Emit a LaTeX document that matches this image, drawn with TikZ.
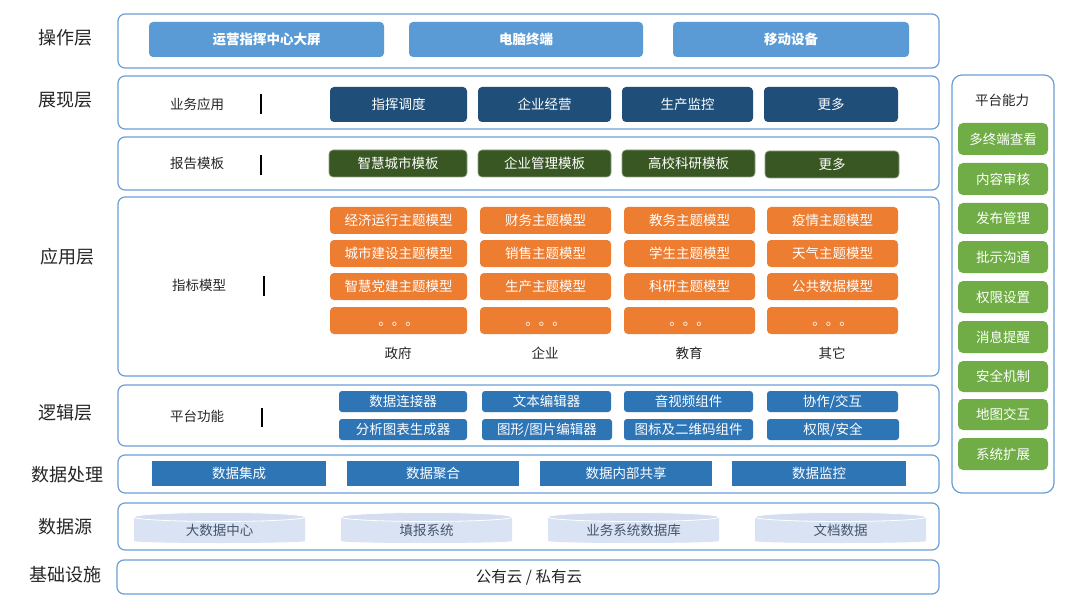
\documentclass[tikz,border=0pt]{standalone}
\usepackage{fontspec}
\setmainfont{Noto Sans CJK SC}
\definecolor{frame}{HTML}{6A9FD8}
\definecolor{lblue}{HTML}{5B9BD5}
\definecolor{navy}{HTML}{1F4E79}
\definecolor{dgreen}{HTML}{385723}
\definecolor{orng}{HTML}{ED7D31}
\definecolor{mblue}{HTML}{2E75B6}
\definecolor{lgreen}{HTML}{70AD47}
\definecolor{cylfill}{HTML}{DAE3F3}
\definecolor{cyltop}{HTML}{D5DEF0}
\definecolor{cyltxt}{HTML}{44546A}
\definecolor{txt}{HTML}{262626}
\newcommand\place[7]{\node[#6, minimum width={(#4-#2)*1pt}, minimum height={(#5-#3)*1pt}] (#1) at ({(#2+#4)/2},{(#3+#5)/2}) {#7};}
\newcommand\mycyl[4]{%
  \pgfmathsetmacro\myrad{(#3-#2)/2}%
  \pgfmathsetmacro\mymid{(#3+#2)/2}%
  \fill[cylfill] (#2,517) -- (#2,541) arc[start angle=180,end angle=360,x radius=\myrad pt,y radius=2pt] -- (#3,517) -- cycle;
  \filldraw[fill=cyltop,draw=white,line width=0.8pt] (\mymid,517) ellipse[x radius=\myrad pt,y radius=4.5pt];
  \node[cyltext] (#1) at (\mymid,530) {#4};}
\newcommand\mydots{\raisebox{-5pt}[0pt][0pt]{。。。}}
\begin{document}
\begin{tikzpicture}[x=1pt,y=-1pt,
  layer/.style={draw=frame,line width=1.2pt,rounded corners=7pt,inner sep=0pt,outer sep=0pt},
  lay/.style={text=txt,font=\fontsize{18}{20}\selectfont,inner sep=0pt},
  sub/.style={text=txt,font=\fontsize{13.5}{16}\selectfont,inner sep=0pt},
  btn/.style={rounded corners=4pt,inner sep=0pt,outer sep=0pt,text=white,font=\fontsize{13.5}{16}\selectfont},
  opbtn/.style={btn,fill=lblue,font=\bfseries\fontsize{13.5}{16}\selectfont},
  navybtn/.style={btn,fill=navy},
  greenbtn/.style={btn,fill=dgreen,draw=dgreen!55!white,line width=0.6pt},
  orbtn/.style={btn,fill=orng},
  bluebtn/.style={btn,fill=mblue,rounded corners=3pt},
  procbox/.style={btn,fill=mblue,rounded corners=0pt},
  capbtn/.style={btn,fill=lgreen,rounded corners=5pt},
  cyltext/.style={text=cyltxt,font=\fontsize{13.5}{16}\selectfont,inner sep=0pt},
  bar/.style={line width=1.3pt,black}]
\useasboundingbox (0,0) rectangle (1080,607);
\fill[white] (0,0) rectangle (1080,607);
% layer frames
\place{f1}{118}{14}{939}{68}{layer}{}
\place{f2a}{118}{76}{939}{129}{layer}{}
\place{f2b}{118}{137}{939}{190}{layer}{}
\place{f3}{118}{197}{939}{376}{layer}{}
\place{f4}{118}{385}{939}{446}{layer}{}
\place{f5}{118}{455}{939}{493}{layer}{}
\place{f6}{118}{503}{939}{550}{layer}{}
\place{f7}{117}{560}{939}{594}{layer}{}
\place{panel}{952}{75}{1054}{493}{layer,rounded corners=10pt}{}
% layer labels
\node[lay] (l1) at (65,38) {操作层};
\node[lay] (l2) at (65,100) {展现层};
\node[lay] (l3) at (67,257) {应用层};
\node[lay] (l4) at (65,413) {逻辑层};
\node[lay] (l5) at (67,475) {数据处理};
\node[lay] (l6) at (65,527) {数据源};
\node[lay] (l7) at (65,575) {基础设施};
% operation layer
\place{o1}{149}{22}{384}{57}{opbtn}{运营指挥中心大屏}
\place{o2}{409}{22}{643}{57}{opbtn}{电脑终端}
\place{o3}{673}{22}{909}{57}{opbtn}{移动设备}
% presentation
\node[sub] (s1) at (197,104) {业务应用};
\draw[bar] (261,94) -- (261,114);
\place{p1}{330}{87}{467}{122}{navybtn}{指挥调度}
\place{p2}{478}{87}{611}{122}{navybtn}{企业经营}
\place{p3}{622}{87}{753}{122}{navybtn}{生产监控}
\place{p4}{764}{87}{898}{122}{navybtn}{更多}
\node[sub] (s2) at (197,163) {报告模板};
\draw[bar] (261,155) -- (261,175);
\place{r1}{329}{150}{467}{177}{greenbtn}{智慧城市模板}
\place{r2}{478}{150}{611}{177}{greenbtn}{企业管理模板}
\place{r3}{622}{150}{755}{177}{greenbtn}{高校科研模板}
\place{r4}{765}{151}{899}{178}{greenbtn}{更多}
% application
\node[sub] (s3) at (199,285) {指标模型};
\draw[bar] (264,276) -- (264,296);
\place{a11}{330}{207}{467}{234}{orbtn}{经济运行主题模型}
\place{a12}{330}{240}{467}{267}{orbtn}{城市建设主题模型}
\place{a13}{330}{273}{467}{300}{orbtn}{智慧党建主题模型}
\place{a14}{330}{307}{467}{334}{orbtn}{\mydots}
\place{a21}{480}{207}{611}{234}{orbtn}{财务主题模型}
\place{a22}{480}{240}{611}{267}{orbtn}{销售主题模型}
\place{a23}{480}{273}{611}{300}{orbtn}{生产主题模型}
\place{a24}{480}{307}{611}{334}{orbtn}{\mydots}
\place{a31}{624}{207}{755}{234}{orbtn}{教务主题模型}
\place{a32}{624}{240}{755}{267}{orbtn}{学生主题模型}
\place{a33}{624}{273}{755}{300}{orbtn}{科研主题模型}
\place{a34}{624}{307}{755}{334}{orbtn}{\mydots}
\place{a41}{767}{207}{898}{234}{orbtn}{疫情主题模型}
\place{a42}{767}{240}{898}{267}{orbtn}{天气主题模型}
\place{a43}{767}{273}{898}{300}{orbtn}{公共数据模型}
\place{a44}{767}{307}{898}{334}{orbtn}{\mydots}
\node[sub] (c1) at (398,353) {政府};
\node[sub] (c2) at (545,353) {企业};
\node[sub] (c3) at (689,353) {教育};
\node[sub] (c4) at (832,353) {其它};
% logic
\node[sub] (s4) at (197,416) {平台功能};
\draw[bar] (262,408) -- (262,427);
\place{g11}{339}{391}{467}{412}{bluebtn}{数据连接器}
\place{g12}{339}{419}{467}{440}{bluebtn}{分析图表生成器}
\place{g21}{482}{391}{611}{412}{bluebtn}{文本编辑器}
\place{g22}{482}{419}{612}{440}{bluebtn}{图形/图片编辑器}
\place{g31}{624}{391}{753}{412}{bluebtn}{音视频组件}
\place{g32}{624}{419}{753}{440}{bluebtn}{图标及二维码组件}
\place{g41}{767}{391}{898}{412}{bluebtn}{协作/交互}
\place{g42}{767}{419}{899}{440}{bluebtn}{权限/安全}
% data processing
\place{d1}{152}{461}{326}{486}{procbox}{数据集成}
\place{d2}{347}{461}{519}{486}{procbox}{数据聚合}
\place{d3}{540}{461}{712}{486}{procbox}{数据内部共享}
\place{d4}{732}{461}{906}{486}{procbox}{数据监控}
% data sources
\mycyl{ds1}{134}{305}{大数据中心}
\mycyl{ds2}{341}{512}{填报系统}
\mycyl{ds3}{548}{719}{业务系统数据库}
\mycyl{ds4}{755}{926}{文档数据}
% infrastructure
\node[sub,font=\fontsize{15.5}{18}\selectfont] (cloud) at (529,577) {公有云 / 私有云};
% platform capability
\node[sub] (ptitle) at (1002,100) {平台能力};
\place{k1}{958}{123}{1048}{155}{capbtn}{多终端查看}
\place{k2}{958}{163}{1048}{195}{capbtn}{内容审核}
\place{k3}{958}{203}{1048}{234}{capbtn}{发布管理}
\place{k4}{958}{241}{1048}{273}{capbtn}{批示沟通}
\place{k5}{958}{281}{1048}{313}{capbtn}{权限设置}
\place{k6}{958}{321}{1048}{353}{capbtn}{消息提醒}
\place{k7}{958}{361}{1048}{392}{capbtn}{安全机制}
\place{k8}{958}{399}{1048}{430}{capbtn}{地图交互}
\place{k9}{958}{438}{1048}{470}{capbtn}{系统扩展}
\end{tikzpicture}
\end{document}
